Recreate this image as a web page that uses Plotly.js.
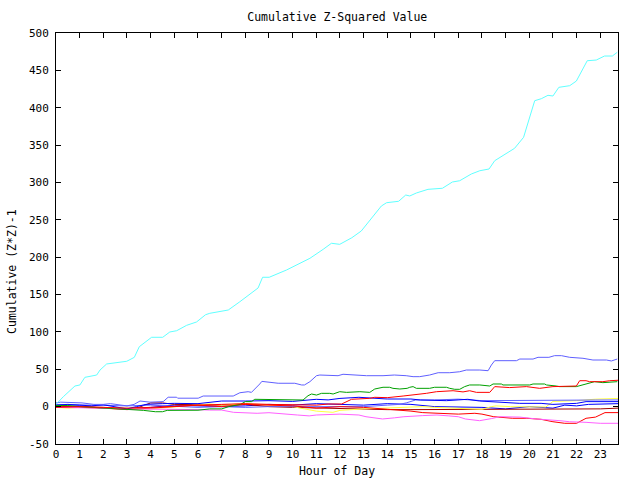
<!DOCTYPE html>
<html>
<head>
<meta charset="utf-8">
<script src="https://cdn.plot.ly/plotly-3.0.1.min.js"></script>
<style>html,body{margin:0;padding:0;background:#fff;}#chart{width:640px;height:480px;}</style>
</head>
<body>
<div id="chart"></div>
<script>
// Hours and cumulative (Z*Z)-1 values, one pair of arrays per series
const cyanHours = [0,0.31,0.8,1.01,1.22,1.5,1.72,1.86,2.14,2.99,3.31,3.52,4.04,4.51,4.81,5.1,5.52,5.94,6.32,6.5,7.28,7.77,8.54,8.73,9.01,9.74,10.16,10.73,11.29,11.64,11.99,12.5,12.9,13.3,13.75,13.97,14.48,14.78,14.95,15.23,15.72,16.33,16.75,17.06,17.55,17.91,18.3,18.54,19.03,19.38,19.76,20.02,20.23,20.51,20.79,21.0,21.25,21.71,21.99,22.45,22.83,23.18,23.51,23.72];
const cyanValues = [3,13.3,27.6,29,39.2,41,42.3,49,57.1,60.7,66,80.2,92.8,92.8,99.9,101.6,108.8,113.3,123,124.9,129.3,140.4,158.8,173.1,173.1,182.8,189.5,198.5,210.5,218.6,217.2,226,235,251.1,268.5,272.9,274.8,283.2,281.9,285.9,290.8,292.2,300.6,302.3,311.3,315.7,318,329.1,339,345.7,360.4,388,409.4,412.1,416.6,415.7,427.3,429.5,435.7,462.9,463.8,469.2,469.2,474.2];

const periHours = [0,0.2,1.1,1.6,2,2.3,3,3.3,3.55,3.97,4.53,4.74,5.1,5.14,6.01,6.22,7.49,7.77,8.12,8.26,8.61,8.7,9.39,10.09,10.38,10.5,10.73,11.01,11.15,11.92,12.13,12.7,13.12,13.82,14.3,14.8,15.09,15.37,15.79,16.15,16.64,17.06,17.34,17.91,18.26,18.4,18.54,19.46,19.6,20.16,20.37,20.83,21.07,21.36,21.71,22.27,22.69,23.26,23.47,23.72];
const periValues = [5,6,5,3,3,4,1,3,7.5,6,6.7,12.6,12.6,11.3,11.3,14.2,14.2,18.6,20,19.1,30.3,33.8,31.3,31.3,29,29,33.4,41.4,42.3,41.4,43.3,42.3,41.4,41.4,42.3,41.4,40.1,40.1,42.3,45.4,45.4,46.7,49,49,48.1,55.7,61.5,61.5,63.7,63.7,66,66,68.2,68.2,66,64.7,62.4,62.4,61.1,63.7];

const greenHours = [0,0.5,1,2,3,3.7,4.2,4.5,4.7,5.3,6,6.5,7,7.3,7.8,8,8.26,8.4,9.32,10.44,10.65,10.8,11.01,11.22,11.57,11.71,11.99,12.28,12.84,13.26,13.47,13.82,14.1,14.24,14.53,14.84,14.95,15.09,15.23,15.79,16,16.5,16.64,16.85,17.06,17.27,17.48,17.91,18.33,18.47,18.82,18.89,20.02,20.16,20.65,20.73,21.14,21.28,21.99,22.27,22.76,23.11,23.72];
const greenValues = [1.5,1.5,0,-2,-3,-5,-6.8,-6.8,-5,-4.6,-4.8,-3,-3,0,3,6.7,6.7,9.8,9.8,8.9,14.6,16.9,15.5,17.8,17.8,16.9,20,19.1,20,19.1,23.6,25.9,25.9,24.5,23.6,24.5,25.9,26.8,24.5,24.5,25.9,25.9,24.5,23.2,23.2,26.8,29,29,27.6,30.3,30.3,29,29,30.3,30.3,29,27.6,26.8,26.8,29,33.4,32.1,33.4];

const redHours = [0,1,2,3,4,5,6,7,8,9,10,11,11.5,12.07,12.49,13.26,13.47,14,14.67,15.09,15.65,16.08,16.78,17.2,17.48,17.77,18.33,18.54,19.17,19.88,20.44,21,21.99,22.13,22.4,22.55,23.11,23.4,23.75];
const redValues = [-1,0,-1,-2,-1,1,2,3,4,3,3,2,3.5,3.5,9.8,11.1,12.5,12,14.2,15.5,17.8,20,21.3,19.7,21.3,19.1,19.1,26.8,25.5,26.8,24.5,26.8,27.6,34.7,34.7,33.4,33.4,34.7,35.3];

const blueHours = [0,0.5,1,1.5,2,2.5,3,3.4,3.8,4.5,5,6,6.5,7,8,8.5,9,10,10.5,11,11.5,12,12.8,13.5,14,15,15.4,16.5,17.4,17.9,18.9,19.6,20.5,21,22,22.4,23.75];
const blueValues = [2,3,2,1,2.5,0,-3,0,3,4,4.4,4,6,7.5,7.5,8,8,7,8,9.8,9,11,12.5,11,10.2,10.2,8.9,8,9.8,7.5,5.8,4.4,4.4,3,4.4,6.7,6.7];

const peri2Hours = [0,1,2,3,4,5,6,7,8,9,10,11,12,13,14,14.5,14.8,15.2,16,17,18,19,20,21,22,23,23.75];
const peri2Values = [3,2,2,1,2,1,-1,0,-1,0,0,1,0,0,2,3,5,8.9,9,10,8,8,8,8,9,8,9];

const yellowHours = [0,0.5,1,2,2.5,3,4,5,6,6.5,7,7.5,8,9,10,10.5,11,11.7,12,13,14,15,15.5,16,16.6,17,18,18.4,18.6,19.2,20,20.7,20.9,21,22,22.8,23.75];
const yellowValues = [-1,-2,-1,-1,-2,-2,-3,0,2,3.6,2,3,4,2,0,-3,-6,-7.6,-5,-3,-2,-1,0,-1,-2,-2.5,-3.6,0,1,0,-0.5,-0.5,4.4,7,8,10,11];

const blue2Hours = [0,1,2,3,4,5,6,7,8,9,10,11,12,13,14,15,16,17,18,19,20,21,21.5,22,22.5,23.75];
const blue2Values = [0,1,-2,-3,-1,2,1,0,1,3,2,4,3,2,4,3,0,-1,-1,-3,0,-2,2,1,3,4];

const darkRedHours = [0,1,2,3,3.5,4,4.5,5,6,7,8,9,10,11,12,13,14,15,16,17,17.5,18,18.5,19,20,21,22,23,23.75];
const darkRedValues = [0,-1,-1,-3,-1,5,5,3,2,2,3,0,-1,-2,-3,-3,-4,-4,-4,-4,-3,-4,-3,-4,-4,-4,-3,-3,-2];

const red2Hours = [0,1,2,3,4,4.5,5,6,7,7.5,8,9,10,11,12,13,14,15,15.5,16,17,17.7,18,18.5,19.3,19.9,20.5,21,21.5,22,22.4,22.8,23.2,23.75];
const red2Values = [0,-1,-2,-4,-2,0,1,2,0,2,3,2,1,-2,0,-1,-3,-6,-8,-9,-10,-8.9,-10,-13.5,-15.6,-15.6,-17,-20.2,-22.3,-22.3,-15.6,-14,-8,-8];

const magentaHours = [0,1,2,3,4,5,6,6.5,7,7.5,8.5,9,9.5,10.2,10.7,11,12,12.8,13.1,13.8,14.3,14.7,15.5,16.1,16.6,17,17.3,17.9,18.4,18.75,19.6,20.3,21.3,21.7,22.4,23,23.75];
const magentaValues = [-1,-1,-2,-3,-3,-3,-4,-4.6,-4.6,-7.6,-8.9,-8.1,-9,-11.2,-12.4,-11.2,-10,-11.2,-13.5,-16.5,-15,-13.5,-12,-11.2,-12.4,-13.5,-16.5,-18.8,-16,-13.5,-14,-16.5,-18.8,-20.2,-21,-22.3,-22.3];

const xTickValues = [0,1,2,3,4,5,6,7,8,9,10,11,12,13,14,15,16,17,18,19,20,21,22,23];
const yTickValues = [-50,0,50,100,150,200,250,300,350,400,450,500];

const series = [
  [blue2Hours, blue2Values, '#0000ff'],
  [darkRedHours, darkRedValues, '#a00000'],
  [yellowHours, yellowValues, '#ffff40'],
  [peri2Hours, peri2Values, '#6060ff'],
  [red2Hours, red2Values, '#ff0000'],
  [magentaHours, magentaValues, '#ff60ff'],
  [blueHours, blueValues, '#0000ff'],
  [greenHours, greenValues, '#00a000'],
  [redHours, redValues, '#ff0000'],
  [periHours, periValues, '#6060ff'],
  [cyanHours, cyanValues, '#60ffff']
];

const traces = series.map(s => ({
  x: s[0], y: s[1], type: 'scatter', mode: 'lines',
  line: {color: s[2], width: 1}, hoverinfo: 'skip', showlegend: false
}));

const fontFam = 'DejaVu Sans Mono, monospace';
const axisCommon = {
  showgrid: false, zeroline: false, showline: true, linecolor: '#000', linewidth: 1,
  mirror: 'ticks', ticks: 'inside', ticklen: 5, tickwidth: 1, tickcolor: '#000',
  tickfont: {family: fontFam, size: 11, color: '#000'}
};

const layout = {
  width: 640, height: 480,
  margin: {l: 56, r: 22, t: 33, b: 36},
  paper_bgcolor: '#fff', plot_bgcolor: '#fff',
  title: {text: 'Cumulative Z-Squared Value', font: {family: fontFam, size: 11.5, color: '#000'}, x: 0.527, xanchor: 'center', y: 0.965, yanchor: 'middle'},
  xaxis: Object.assign({}, axisCommon, {
    range: [0, 23.75], tickvals: xTickValues, ticktext: xTickValues.map(String),
    title: {text: 'Hour of Day', font: {family: fontFam, size: 11.5, color: '#000'}, standoff: 6}
  }),
  yaxis: Object.assign({}, axisCommon, {
    range: [-50, 500], tickvals: yTickValues, ticktext: yTickValues.map(String),
    ticklabelstandoff: 4
  }),
  annotations: [{
    text: 'Cumulative (Z*Z)-1', textangle: -90, showarrow: false,
    xref: 'paper', yref: 'paper', x: -0.0783, y: 0.421, xanchor: 'center', yanchor: 'middle',
    font: {family: fontFam, size: 11.5, color: '#000'}
  }]
};

Plotly.newPlot('chart', traces, layout, {staticPlot: true, displayModeBar: false});
</script>
</body>
</html>
